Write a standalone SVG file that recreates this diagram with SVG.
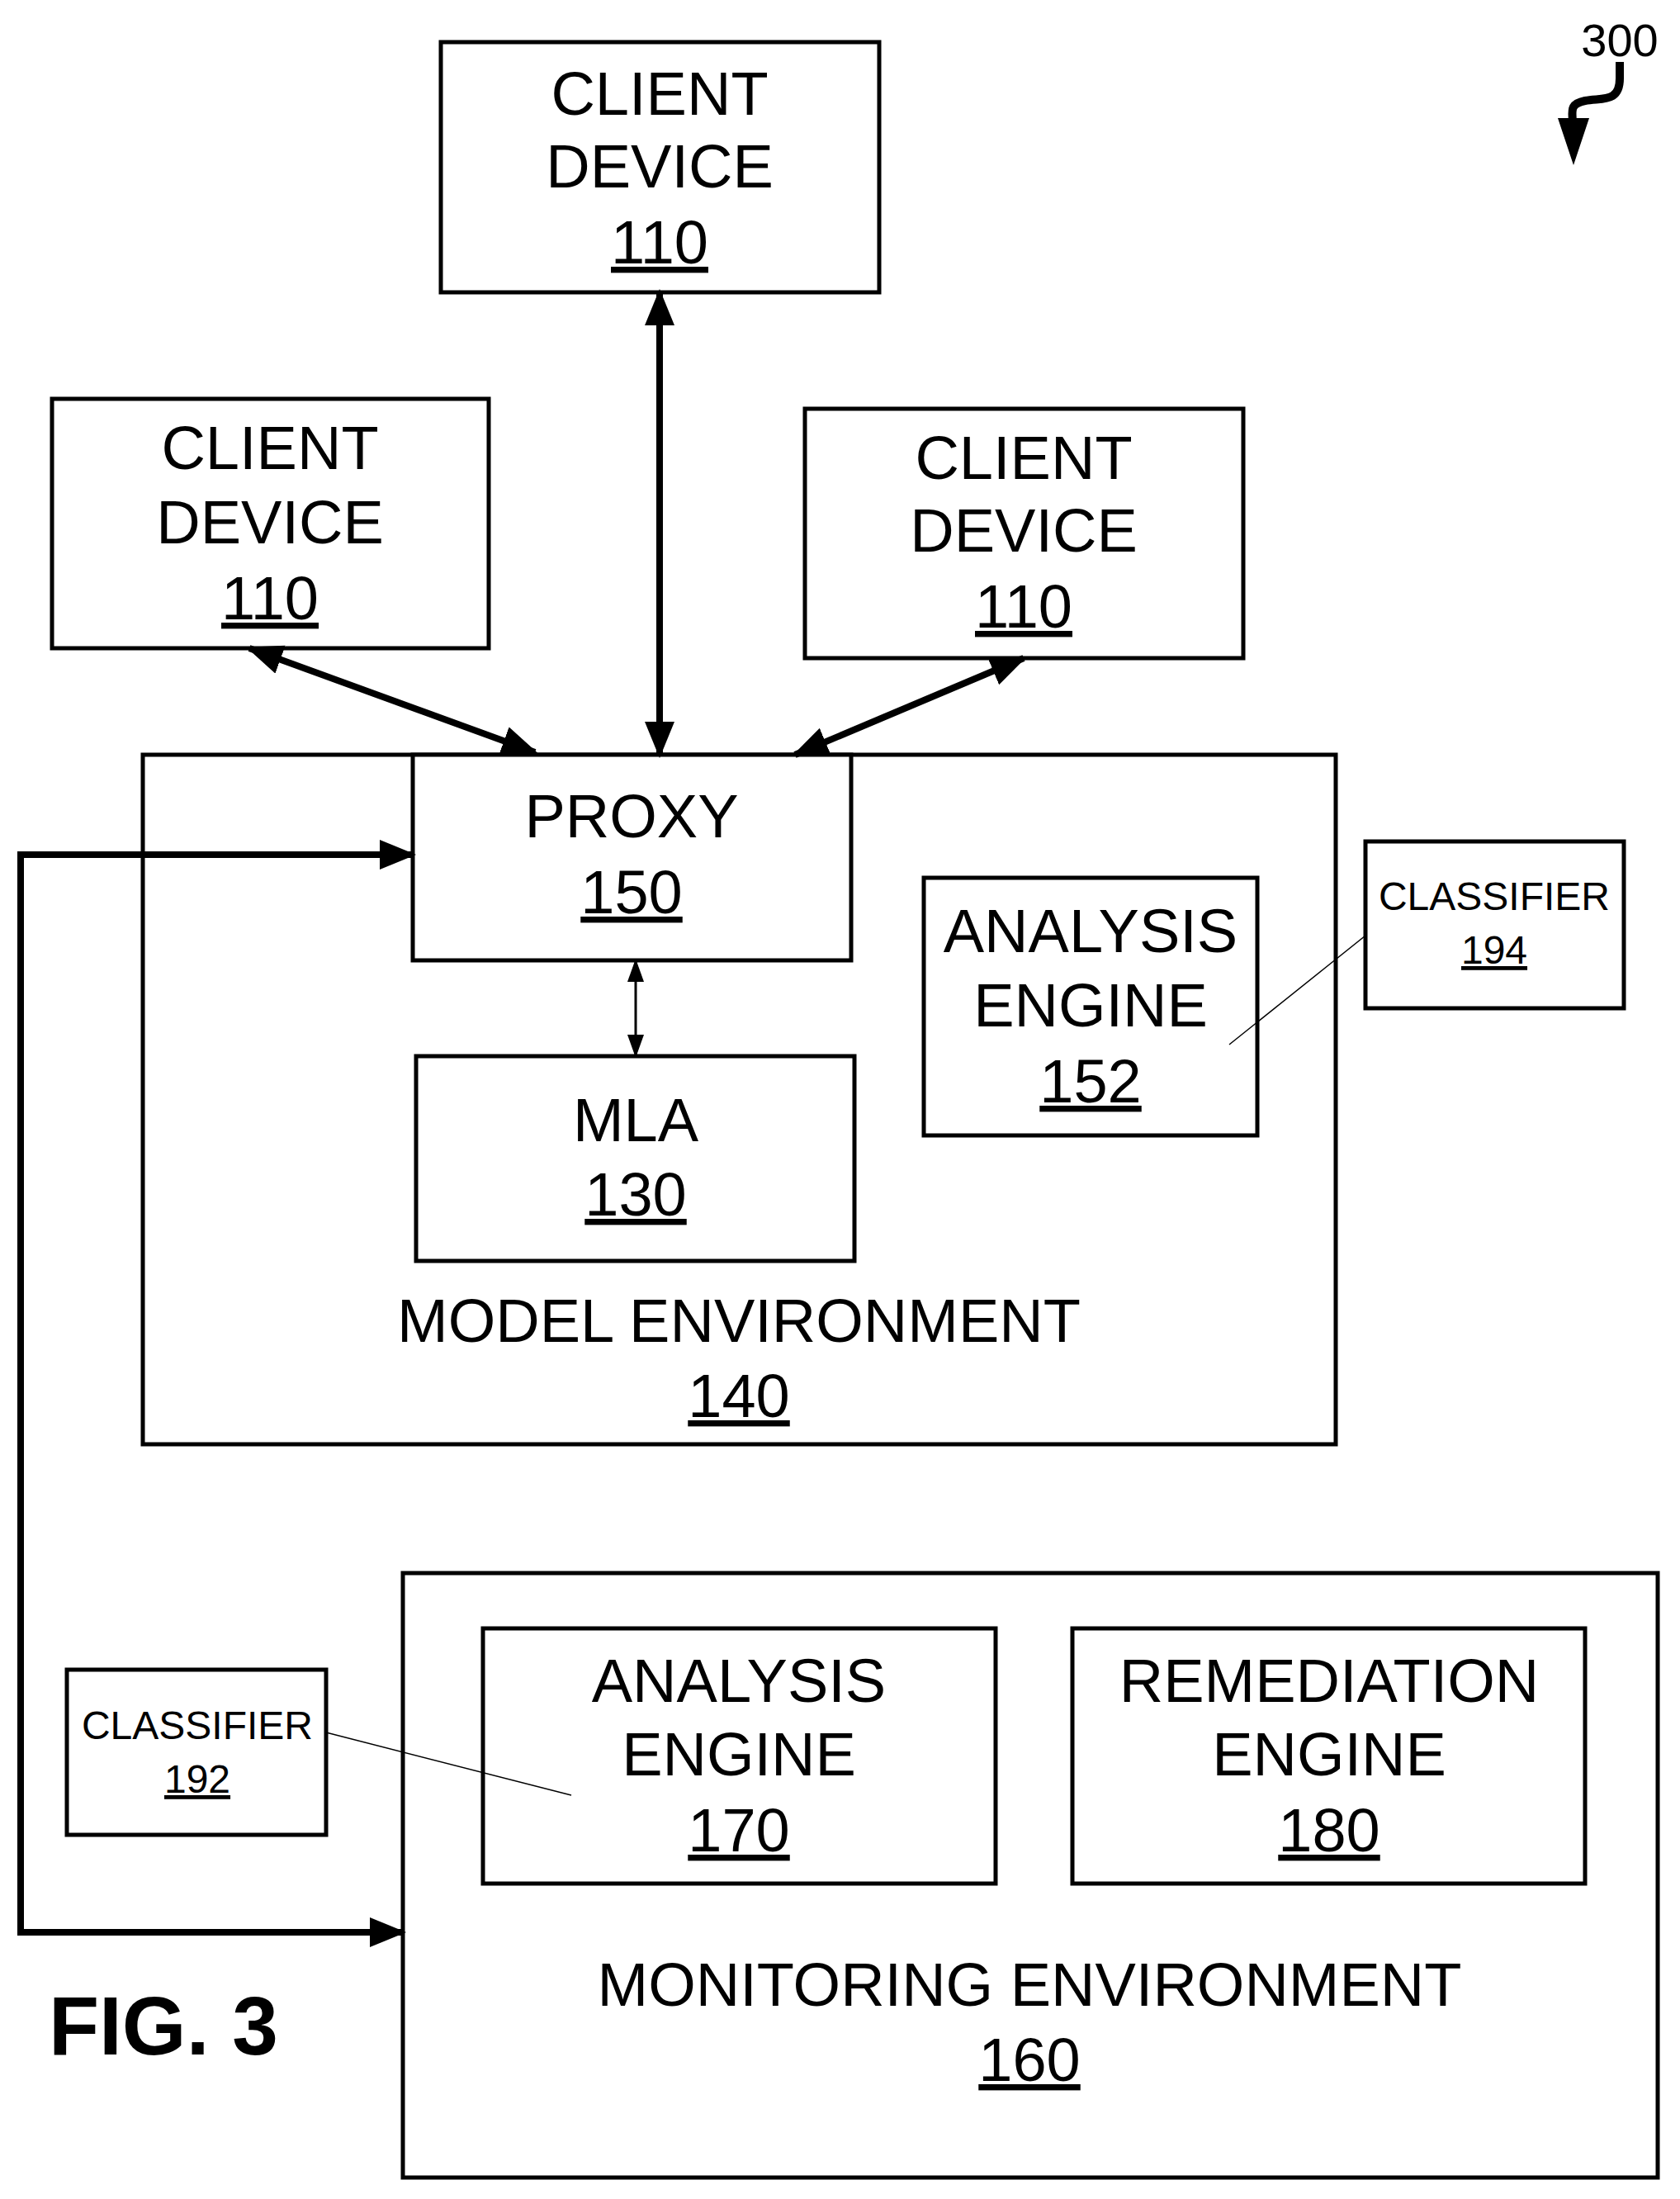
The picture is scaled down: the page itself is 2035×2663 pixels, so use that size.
<svg xmlns="http://www.w3.org/2000/svg" width="2035" height="2663" viewBox="0 0 2035 2663">
<style>
.b{fill:#fff;stroke:#000;stroke-width:5}
.t{font-family:"Liberation Sans",Arial,sans-serif;font-size:74px;text-anchor:middle;fill:#000}
.s{font-family:"Liberation Sans",Arial,sans-serif;font-size:48px;text-anchor:middle;fill:#000}
.u{text-decoration:underline}
.c{stroke:#000;stroke-width:8;fill:none}
</style>
<defs>
<marker id="a" markerUnits="userSpaceOnUse" markerWidth="50" markerHeight="40" refX="40" refY="18" orient="auto-start-reverse"><path d="M0,0L44,18L0,36z"/></marker>
<marker id="m" markerUnits="userSpaceOnUse" markerWidth="30" markerHeight="24" refX="26" refY="10" orient="auto-start-reverse"><path d="M0,0L28,10L0,20z"/></marker>
</defs>
<rect width="2035" height="2663" fill="#fff"/>
<g id="model-env"><rect class="b" x="173" y="914" width="1445" height="835"/><text class="t" x="895" y="1625">MODEL ENVIRONMENT</text><text class="t u" x="895" y="1716">140</text></g>
<g id="monitor-env"><rect class="b" x="488" y="1905" width="1520" height="732"/><text class="t" x="1247" y="2429">MONITORING ENVIRONMENT</text><text class="t u" x="1247" y="2520">160</text></g>
<g id="c1"><rect class="b" x="534" y="51" width="531" height="303"/><text class="t" x="799" y="139">CLIENT</text><text class="t" x="799" y="227">DEVICE</text><text class="t u" x="799" y="319">110</text></g>
<g id="c2"><rect class="b" x="63" y="483" width="529" height="302"/><text class="t" x="327" y="568">CLIENT</text><text class="t" x="327" y="658">DEVICE</text><text class="t u" x="327" y="750">110</text></g>
<g id="c3"><rect class="b" x="975" y="495" width="531" height="302"/><text class="t" x="1240" y="580">CLIENT</text><text class="t" x="1240" y="668">DEVICE</text><text class="t u" x="1240" y="760">110</text></g>
<g id="proxy"><rect class="b" x="500" y="914" width="531" height="249"/><text class="t" x="765" y="1014">PROXY</text><text class="t u" x="765" y="1106">150</text></g>
<g id="mla"><rect class="b" x="504" y="1279" width="531" height="248"/><text class="t" x="770" y="1382">MLA</text><text class="t u" x="770" y="1472">130</text></g>
<g id="ae152"><rect class="b" x="1119" y="1063" width="404" height="312"/><text class="t" x="1321" y="1153">ANALYSIS</text><text class="t" x="1321" y="1243">ENGINE</text><text class="t u" x="1321" y="1335">152</text></g>
<g id="cl194"><rect class="b" x="1654" y="1019" width="313" height="202"/><text class="s" x="1810" y="1102">CLASSIFIER</text><text class="s u" x="1810" y="1167">194</text></g>
<g id="ae170"><rect class="b" x="585" y="1972" width="621" height="309"/><text class="t" x="895" y="2061">ANALYSIS</text><text class="t" x="895" y="2150">ENGINE</text><text class="t u" x="895" y="2242">170</text></g>
<g id="re180"><rect class="b" x="1299" y="1972" width="621" height="309"/><text class="t" x="1610" y="2061">REMEDIATION</text><text class="t" x="1610" y="2150">ENGINE</text><text class="t u" x="1610" y="2242">180</text></g>
<g id="cl192"><rect class="b" x="81" y="2022" width="314" height="200"/><text class="s" x="239" y="2106">CLASSIFIER</text><text class="s u" x="239" y="2171">192</text></g>
<g id="labels"><text x="59" y="2488" font-family="Liberation Sans,Arial,sans-serif" font-weight="bold" font-size="100">FIG. 3</text><text x="1962" y="68" font-family="Liberation Sans,Arial,sans-serif" font-size="56" text-anchor="middle">300</text></g>
<g id="connectors">
<line class="c" x1="799" y1="354" x2="799" y2="914" marker-start="url(#a)" marker-end="url(#a)"/>
<line class="c" x1="302" y1="785" x2="648" y2="911" marker-start="url(#a)" marker-end="url(#a)"/>
<line class="c" x1="1240" y1="797" x2="963" y2="914" marker-start="url(#a)" marker-end="url(#a)"/>
<line stroke="#000" stroke-width="3" x1="770" y1="1163" x2="770" y2="1279" marker-start="url(#m)" marker-end="url(#m)"/>
<path class="c" d="M500,1035H25V2340H488" marker-start="url(#a)" marker-end="url(#a)"/>
<line stroke="#000" stroke-width="1.5" x1="1654" y1="1133" x2="1489" y2="1265"/>
<line stroke="#000" stroke-width="1.5" x1="395" y1="2098" x2="692" y2="2174"/>
<path d="M1962,75V95C1962,125 1940,118 1920,122C1900,126 1905,135 1905,150" stroke="#000" stroke-width="10" fill="none"/>
<path d="M1887,143L1925,143L1906,200z"/>
</g>
</svg>
